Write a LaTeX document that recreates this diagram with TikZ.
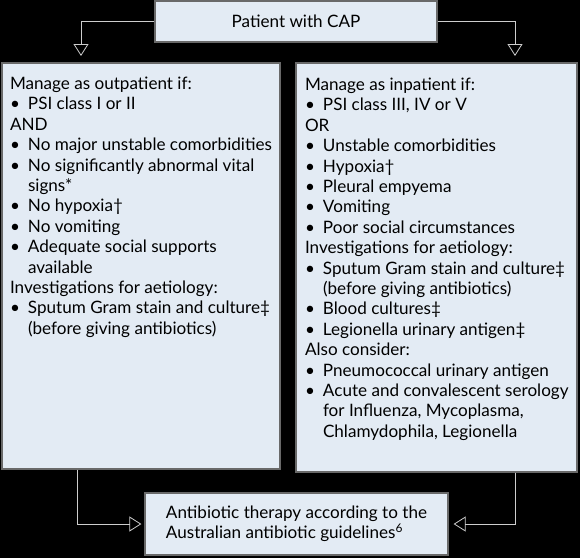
\documentclass[tikz,border=0pt]{standalone}
\usepackage{fontspec}
\setmainfont{Lato}
\usetikzlibrary{arrows.meta}
\definecolor{boxfill}{RGB}{227,235,244}
\definecolor{boxline}{RGB}{105,105,105}
\definecolor{arrline}{RGB}{205,205,205}
\newcommand{\bul}[1]{\par\hangindent=18pt\hangafter=1\noindent\makebox[18pt][l]{\textbullet}#1}
\newcommand{\hd}[1]{\par\noindent #1}
\tikzset{
  box/.style={draw=boxline, line width=1.2pt, fill=boxfill, inner sep=0pt},
  arr/.style={draw=arrline, line width=0.8pt, -{Triangle[open, length=12pt, width=15pt]}}
}
\begin{document}
\begin{tikzpicture}[x=1pt, y=-1pt, font=\fontsize{17.1}{20.4}\selectfont]
\fill[black] (0,0) rectangle (580,558);
\useasboundingbox (0,0) rectangle (580,558);

\node[box, minimum width=282pt, minimum height=41pt] (cap) at (296,21.5) {Patient with CAP};
\node[box] (out) at (141,266) {\parbox[c][406pt][t]{278pt}{\raggedright\leftskip=8pt\vspace*{14pt}
\hd{Manage as outpatient if:}
\bul{PSI class I or II}
\hd{AND}
\bul{No major unstable comorbidities}
\bul{No significantly abnormal vital\newline signs*}
\bul{No hypoxia†}
\bul{No vomiting}
\bul{Adequate social supports\newline available}
\hd{Investigations for aetiology:}
\bul{Sputum Gram stain and culture‡\newline (before giving antibiotics)}}};
\node[box] (in) at (436.5,267.5) {\parbox[c][409pt][t]{281pt}{\raggedright\leftskip=9pt\vspace*{15pt}
\hd{Manage as inpatient if:}
\bul{PSI class III, IV or V}
\hd{OR}
\bul{Unstable comorbidities}
\bul{Hypoxia†}
\bul{Pleural empyema}
\bul{Vomiting}
\bul{Poor social circumstances}
\hd{Investigations for aetiology:}
\bul{Sputum Gram stain and culture‡\newline (before giving antibiotics)}
\bul{Blood cultures‡}
\bul{Legionella urinary antigen‡}
\hd{Also consider:}
\bul{Pneumococcal urinary antigen}
\bul{Acute and convalescent serology\newline for Influenza, Mycoplasma,\newline Chlamydophila, Legionella}}};
\node[box, minimum width=303pt, minimum height=62pt, align=left] (ther) at (296.5,524) {Antibiotic therapy according to the\\Australian antibiotic guidelines\textsuperscript{6}};

\coordinate (outtip) at (81,56);
\coordinate (intip) at (515,56);
\coordinate (outx) at (77,0);
\coordinate (inx) at (515,0);

\path[arr] (cap.west) -| (outtip);
\path[arr] (cap.east) -| (intip);
\path[arr] (out.south -| outx) |- ([xshift=-3pt]ther.west);
\path[arr] (in.south -| inx) |- ([xshift=5pt]ther.east);
\end{tikzpicture}
\end{document}
